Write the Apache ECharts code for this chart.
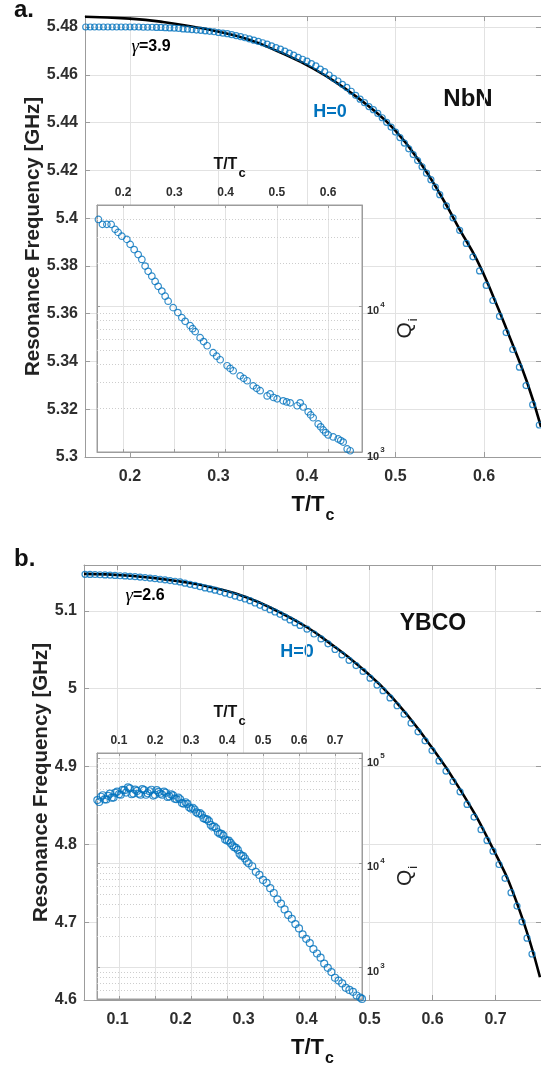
<!DOCTYPE html>
<html><head><meta charset="utf-8">
<script src="https://cdn.jsdelivr.net/npm/echarts@6/dist/echarts.min.js"></script>
<style>html,body{margin:0;padding:0;background:#fff}#c{width:541px;height:1068px}</style>
</head><body><div id="c"></div>
<script>
// ---------- Panel a (NbN) ----------
const aMainT = [0.150,0.155,0.160,0.165,0.170,0.175,0.180,0.185,0.190,0.195,0.200,0.205,0.210,0.215,0.220,0.225,0.230,0.235,0.240,0.245,0.250,0.255,0.260,0.265,0.270,0.275,0.280,0.285,0.290,0.295,0.300,0.305,0.310,0.315,0.320,0.325,0.330,0.335,0.340,0.345,0.350,0.355,0.360,0.365,0.370,0.375,0.380,0.385,0.390,0.395,0.400,0.405,0.410,0.415,0.420,0.425,0.430,0.435,0.440,0.445,0.450,0.455,0.460,0.465,0.470,0.475,0.480,0.485,0.490,0.495,0.500,0.505,0.510,0.515,0.520,0.525,0.530,0.535,0.540,0.545,0.550,0.5575,0.565,0.5725,0.580,0.5875,0.595,0.6025,0.610,0.6175,0.625,0.6325,0.640,0.6475,0.655,0.6625];
const aMainF = [5.4800,5.4800,5.4800,5.4800,5.4800,5.4800,5.4800,5.4800,5.4800,5.4800,5.4800,5.4800,5.4800,5.4799,5.4799,5.4799,5.4798,5.4798,5.4797,5.4796,5.4795,5.4794,5.4792,5.4791,5.4789,5.4787,5.4786,5.4784,5.4782,5.4780,5.4777,5.4774,5.4772,5.4768,5.4764,5.4760,5.4755,5.4750,5.4745,5.4740,5.4734,5.4728,5.4721,5.4714,5.4707,5.4699,5.4691,5.4682,5.4673,5.4665,5.4657,5.4647,5.4637,5.4624,5.4613,5.4599,5.4585,5.4574,5.4560,5.4547,5.4531,5.4514,5.4498,5.4483,5.4467,5.4454,5.4438,5.4420,5.4401,5.4381,5.4360,5.4337,5.4314,5.4290,5.4266,5.4241,5.4215,5.4188,5.4161,5.4130,5.4098,5.4051,5.4001,5.3949,5.3894,5.3838,5.3779,5.3718,5.3655,5.3589,5.3521,5.3450,5.3376,5.3299,5.3219,5.3134];
const aFitT = [0.1492,0.2000,0.2373,0.2757,0.2938,0.3322,0.3695,0.4068,0.4407,0.4712,0.4994,0.5277,0.5537,0.5729,0.5921,0.6102,0.6294,0.6486,0.6644];
const aFitF = [5.4843,5.4835,5.4821,5.4798,5.4785,5.4750,5.4694,5.4627,5.4548,5.4464,5.4368,5.4234,5.4079,5.3950,5.3824,5.3674,5.3498,5.3314,5.3126];
const aInsT = [0.1518,0.1596,0.1682,0.1766,0.1844,0.1902,0.1975,0.2072,0.2137,0.2215,0.2293,0.2365,0.2429,0.2488,0.2560,0.2624,0.2683,0.2755,0.2820,0.2878,0.2976,0.3067,0.3145,0.3210,0.3307,0.3355,0.3405,0.3502,0.3570,0.3639,0.3756,0.3825,0.3893,0.4029,0.4088,0.4146,0.4283,0.4352,0.4420,0.4537,0.4605,0.4673,0.4810,0.4868,0.4935,0.5005,0.5122,0.5190,0.5259,0.5395,0.5454,0.5512,0.5610,0.5658,0.5707,0.5805,0.5853,0.5902,0.5950,0.6000,0.6098,0.6195,0.6245,0.6293,0.6371,0.6429];
const aInsQ = [39800,36800,36800,36800,34000,32400,30500,29000,26800,24700,22800,21100,19000,17500,16200,14900,13800,12800,11800,10900,9840,9100,8400,7920,7400,7050,6730,6110,5750,5380,4820,4560,4310,3920,3760,3620,3340,3210,3090,2850,2740,2640,2430,2510,2370,2320,2250,2210,2180,2080,2180,2040,1890,1800,1720,1560,1490,1420,1360,1310,1270,1230,1200,1170,1050,1020];

// ---------- Panel b (YBCO) ----------
const bMainT = [0.0484,0.0563,0.0643,0.0722,0.0802,0.0881,0.0960,0.1040,0.1119,0.1198,0.1278,0.1357,0.1437,0.1516,0.1595,0.1675,0.1754,0.1833,0.1913,0.1992,0.2071,0.2151,0.2230,0.2310,0.2389,0.2468,0.2548,0.2627,0.2706,0.2786,0.2865,0.2944,0.3024,0.3103,0.3183,0.3262,0.3341,0.3421,0.3500,0.3579,0.3659,0.3738,0.3817,0.3897,0.4008,0.4119,0.4230,0.4341,0.4452,0.4563,0.4675,0.4786,0.4897,0.5008,0.5119,0.5214,0.5325,0.5437,0.5548,0.5659,0.5770,0.5881,0.5992,0.6103,0.6214,0.6325,0.6437,0.6548,0.6659,0.6770,0.6865,0.6960,0.7056,0.7151,0.7246,0.7341,0.7421,0.7500,0.7579];
const bMainF = [5.1470,5.1469,5.1468,5.1465,5.1462,5.1460,5.1456,5.1452,5.1449,5.1445,5.1440,5.1435,5.1428,5.1422,5.1414,5.1407,5.1399,5.1390,5.1381,5.1372,5.1357,5.1342,5.1327,5.1311,5.1295,5.1282,5.1267,5.1248,5.1229,5.1210,5.1191,5.1172,5.1153,5.1131,5.1102,5.1072,5.1044,5.1015,5.0986,5.0956,5.0920,5.0884,5.0849,5.0813,5.0765,5.0703,5.0640,5.0577,5.0504,5.0435,5.0365,5.0297,5.0222,5.0136,5.0047,4.9975,4.9882,4.9781,4.9672,4.9558,4.9446,4.9330,4.9205,4.9072,4.8942,4.8808,4.8675,4.8513,4.8351,4.8189,4.8051,4.7912,4.7741,4.7563,4.7379,4.7207,4.7004,4.6794,4.6591];
const bFitT = [0.0468,0.1198,0.1992,0.2516,0.3056,0.3579,0.4008,0.4325,0.4849,0.5373,0.5913,0.6437,0.6960,0.7341,0.7706];
const bFitF = [5.1476,5.1451,5.1379,5.1299,5.1172,5.0981,5.0790,5.0612,5.0282,4.9877,4.9329,4.8707,4.7944,4.7245,4.6292];
const bInsT = [0.040,0.050,0.060,0.070,0.080,0.090,0.100,0.110,0.120,0.130,0.140,0.150,0.160,0.170,0.180,0.190,0.200,0.210,0.220,0.230,0.240,0.250,0.260,0.270,0.280,0.290,0.300,0.310,0.320,0.330,0.340,0.350,0.360,0.370,0.380,0.390,0.400,0.410,0.420,0.430,0.440,0.450,0.460,0.470,0.480,0.490,0.500,0.510,0.520,0.530,0.540,0.550,0.560,0.570,0.580,0.590,0.600,0.610,0.620,0.630,0.640,0.650,0.660,0.670,0.680,0.690,0.700,0.710,0.720,0.730,0.740,0.750,0.760,0.770,0.775,
  0.045,0.055,0.065,0.075,0.085,0.095,0.105,0.115,0.125,0.135,0.145,0.155,0.165,0.175,0.185,0.195,0.205,0.215,0.225,0.235,0.245,0.255,0.265,0.275,0.285,0.295,0.305,0.315,0.325,0.335,0.345,0.355,0.365,0.375,0.385,0.395,0.405,0.415,0.425,0.435,0.445,0.455];
const bInsQ = [39800,42800,40300,43700,41900,46700,45200,49800,46900,51500,45900,48600,44700,49500,46200,49900,44700,47600,44700,46700,43100,44000,40600,40500,36700,36500,33000,32300,29600,28800,26200,25000,22100,21400,19000,18200,16300,15500,14100,13300,11700,11000,9910,9270,8200,7670,6870,6440,5730,5150,4480,4070,3590,3180,2920,2600,2360,2070,1880,1710,1500,1360,1240,1090,993,904,798,750,705,640,611,585,540,516,501,
  38100,44200,40300,45800,42000,47900,44800,49400,52500,45200,50000,45800,50700,44700,48300,43900,49400,45800,47900,42600,45000,41000,42000,37200,37900,33900,33600,30400,29900,26700,26000,23000,22200,19600,18900,16700,16300,14700,13900,12200,11600,10300];

const minorQa = [2000,3000,4000,5000,6000,7000,8000,9000,20000,30000,40000];
const minorQb = [600,700,800,900,2000,3000,4000,5000,6000,7000,8000,9000,20000,30000,40000,50000,60000,70000,80000,90000];

const zip = (xs, ys) => xs.map((x, i) => [x, ys[i]]);

const BLUE = '#0072BD', AX = '#9c9c9c', GRIDC = '#e2e2e2', LBL = '#2e2e2e', FONT = '"Liberation Sans", Arial, sans-serif';

const ttcRichBig = { m:{fontSize:22,fontWeight:'bold',lineHeight:24,verticalAlign:'top',color:'#111',fontFamily:FONT},
                     s:{fontSize:16,fontWeight:'bold',lineHeight:16,verticalAlign:'top',padding:[14,0,0,1],color:'#111',fontFamily:FONT} };
const ttcRichSmall = { m:{fontSize:16,fontWeight:'bold',lineHeight:18,verticalAlign:'top',color:'#111',fontFamily:FONT},
                       s:{fontSize:13,fontWeight:'bold',lineHeight:13,verticalAlign:'top',padding:[10,0,0,1],color:'#111',fontFamily:FONT} };
const qRich = { q:{fontSize:21,lineHeight:22,verticalAlign:'top',color:'#222',fontFamily:FONT},
                s:{fontSize:13,lineHeight:13,verticalAlign:'top',padding:[12,0,0,1],color:'#222',fontFamily:FONT} };
const logFmt = v => { const l = Math.log10(v), e = Math.round(l); return Math.abs(l - e) < 1e-6 ? '{b|10}{p|' + e + '}' : ''; };
const logRich = { b:{fontSize:11,fontWeight:'bold',lineHeight:12,verticalAlign:'top',padding:[5,0,0,0],color:LBL,fontFamily:FONT},
                  p:{fontSize:8,fontWeight:'bold',lineHeight:9,verticalAlign:'top',padding:[0,0,0,1],color:LBL,fontFamily:FONT} };

function valX(grid, min, max, split, pos, opts) {
  return Object.assign({ gridIndex: grid, type: 'value', position: pos, min, max, splitNumber: split, nameMoveOverlap: false,
    axisLine: { show: true, onZero: false, lineStyle: { color: AX, width: 1 } },
    axisTick: { show: true, inside: true, length: 5, lineStyle: { color: AX } },
    axisLabel: { show: false }, splitLine: { show: false } }, opts || {});
}
function mainLabel(extra) {
  return Object.assign({ show: true, fontSize: 16, fontWeight: 'bold', color: LBL, fontFamily: FONT, showMinLabel: false, showMaxLabel: false }, extra);
}
const yTitle = { fontSize: 20.5, fontWeight: 'bold', color: '#222', fontFamily: FONT };

const option = {
  animation: false,
  backgroundColor: '#fff',
  grid: [
    { left: 85, top: 16, width: 456, height: 441 },
    { left: 97, top: 205, width: 265, height: 247, show: true, backgroundColor: '#fff', borderColor: AX, borderWidth: 1, z: 3 },
    { left: 84, top: 565, width: 457, height: 440 },
    { left: 97, top: 753, width: 265, height: 246, show: true, backgroundColor: '#fff', borderColor: AX, borderWidth: 1, z: 3 }
  ],
  xAxis: [
    valX(0, 0.1492, 0.6644, 5, 'bottom', { axisLabel: mainLabel({ margin: 12 }), splitLine: { show: true, lineStyle: { color: GRIDC } },
      name: '{m|T/T}{s|c}', nameLocation: 'middle', nameGap: 37, nameTextStyle: { rich: ttcRichBig } }),
    valX(0, 0.1492, 0.6644, 5, 'top'),
    valX(1, 0.149, 0.666, 5, 'top', { z: 4, axisTick: { show: true, inside: true, length: 3, lineStyle: { color: AX } },
      axisLabel: mainLabel({ fontSize: 12, margin: 6 }), splitLine: { show: true, lineStyle: { color: GRIDC } },
      name: '{m|T/T}{s|c}', nameLocation: 'middle', nameGap: 30, nameTextStyle: { rich: ttcRichSmall } }),
    valX(1, 0.149, 0.666, 5, 'bottom', { z: 4, axisTick: { show: true, inside: true, length: 3, lineStyle: { color: AX } } }),
    valX(2, 0.0468, 0.7722, 7, 'bottom', { axisLabel: mainLabel({ margin: 12 }), splitLine: { show: true, lineStyle: { color: GRIDC } },
      name: '{m|T/T}{s|c}', nameLocation: 'middle', nameGap: 37, nameTextStyle: { rich: ttcRichBig } }),
    valX(2, 0.0468, 0.7722, 7, 'top'),
    valX(3, 0.039, 0.775, 7, 'top', { z: 4, axisTick: { show: true, inside: true, length: 3, lineStyle: { color: AX } },
      axisLabel: mainLabel({ fontSize: 12, margin: 6 }), splitLine: { show: true, lineStyle: { color: GRIDC } },
      name: '{m|T/T}{s|c}', nameLocation: 'middle', nameGap: 30, nameTextStyle: { rich: ttcRichSmall } }),
    valX(3, 0.039, 0.775, 7, 'bottom', { z: 4, axisTick: { show: true, inside: true, length: 3, lineStyle: { color: AX } } })
  ],
  yAxis: [
    { gridIndex: 0, type: 'value', position: 'left', min: 5.3, max: 5.4846, interval: 0.02, nameMoveOverlap: false,
      axisLine: { show: true, onZero: false, lineStyle: { color: AX } }, axisTick: { show: true, inside: true, length: 5, lineStyle: { color: AX } },
      axisLabel: mainLabel({ margin: 7, showMinLabel: true }), splitLine: { show: true, lineStyle: { color: GRIDC } },
      name: 'Resonance Frequency [GHz]', nameLocation: 'middle', nameGap: 41, nameTextStyle: yTitle },
    { gridIndex: 0, type: 'value', position: 'right', min: 5.3, max: 5.4846, interval: 0.02,
      axisLine: { show: false }, axisTick: { show: true, inside: true, length: 5, lineStyle: { color: AX } }, axisLabel: { show: false }, splitLine: { show: false } },
    { gridIndex: 1, type: 'log', logBase: 10, position: 'right', min: 1000, max: 50000, z: 4, nameMoveOverlap: false,
      axisLine: { show: true, onZero: false, lineStyle: { color: AX } }, axisTick: { show: true, inside: true, length: 3, lineStyle: { color: AX } },
      axisLabel: { show: true, margin: 5, formatter: logFmt, rich: logRich }, splitLine: { show: true, lineStyle: { color: GRIDC } },
      name: '{q|Q}{s|i}', nameLocation: 'middle', nameGap: 33, nameTextStyle: { rich: qRich } },
    { gridIndex: 1, type: 'log', logBase: 10, position: 'left', min: 1000, max: 50000, z: 4,
      axisLine: { show: true, onZero: false, lineStyle: { color: AX } }, axisTick: { show: true, inside: true, length: 3, lineStyle: { color: AX } }, axisLabel: { show: false }, splitLine: { show: false } },
    { gridIndex: 2, type: 'value', position: 'left', min: 4.6, max: 5.159, interval: 0.1, nameMoveOverlap: false,
      axisLine: { show: true, onZero: false, lineStyle: { color: AX } }, axisTick: { show: true, inside: true, length: 5, lineStyle: { color: AX } },
      axisLabel: mainLabel({ margin: 7, showMinLabel: true }), splitLine: { show: true, lineStyle: { color: GRIDC } },
      name: 'Resonance Frequency [GHz]', nameLocation: 'middle', nameGap: 32, nameTextStyle: yTitle },
    { gridIndex: 2, type: 'value', position: 'right', min: 4.6, max: 5.159, interval: 0.1,
      axisLine: { show: false }, axisTick: { show: true, inside: true, length: 5, lineStyle: { color: AX } }, axisLabel: { show: false }, splitLine: { show: false } },
    { gridIndex: 3, type: 'log', logBase: 10, position: 'right', min: 500, max: 112000, z: 4, nameMoveOverlap: false,
      axisLine: { show: true, onZero: false, lineStyle: { color: AX } }, axisTick: { show: true, inside: true, length: 3, lineStyle: { color: AX } },
      axisLabel: { show: true, margin: 5, formatter: logFmt, rich: logRich }, splitLine: { show: true, lineStyle: { color: GRIDC } },
      name: '{q|Q}{s|i}', nameLocation: 'middle', nameGap: 33, nameTextStyle: { rich: qRich } },
    { gridIndex: 3, type: 'log', logBase: 10, position: 'left', min: 500, max: 112000, z: 4,
      axisLine: { show: true, onZero: false, lineStyle: { color: AX } }, axisTick: { show: true, inside: true, length: 3, lineStyle: { color: AX } }, axisLabel: { show: false }, splitLine: { show: false } }
  ],
  series: [
    { type: 'scatter', xAxisIndex: 0, yAxisIndex: 0, data: zip(aMainT, aMainF), symbol: 'circle', symbolSize: 6, z: 2,
      itemStyle: { color: 'rgba(0,0,0,0)', borderColor: BLUE, borderWidth: 1.2 } },
    { type: 'line', xAxisIndex: 0, yAxisIndex: 0, data: zip(aFitT, aFitF), smooth: 0.5, showSymbol: false, symbol: 'none', z: 2,
      lineStyle: { color: '#000', width: 2.6 } },
    { type: 'scatter', xAxisIndex: 2, yAxisIndex: 2, data: zip(aInsT, aInsQ), symbol: 'circle', symbolSize: 6.5, z: 6,
      itemStyle: { color: 'rgba(0,0,0,0)', borderColor: BLUE, borderWidth: 1.2 },
      markLine: { silent: true, symbol: ['none', 'none'], label: { show: false }, animation: false,
        lineStyle: { color: '#cdcdcd', type: [1, 2], width: 1 }, data: minorQa.map(v => ({ yAxis: v })) } },
    { type: 'scatter', xAxisIndex: 4, yAxisIndex: 4, data: zip(bMainT, bMainF), symbol: 'circle', symbolSize: 6, z: 2,
      itemStyle: { color: 'rgba(0,0,0,0)', borderColor: BLUE, borderWidth: 1.2 } },
    { type: 'line', xAxisIndex: 4, yAxisIndex: 4, data: zip(bFitT, bFitF), smooth: 0.5, showSymbol: false, symbol: 'none', z: 2,
      lineStyle: { color: '#000', width: 2.6 } },
    { type: 'scatter', xAxisIndex: 6, yAxisIndex: 6, data: zip(bInsT, bInsQ), symbol: 'circle', symbolSize: 7, z: 6,
      itemStyle: { color: 'rgba(0,0,0,0)', borderColor: BLUE, borderWidth: 1.2 },
      markLine: { silent: true, symbol: ['none', 'none'], label: { show: false }, animation: false,
        lineStyle: { color: '#cdcdcd', type: [1, 2], width: 1 }, data: minorQb.map(v => ({ yAxis: v })) } }
  ],
  graphic: [
    { type: 'text', x: 14, y: 10, style: { text: 'a.', font: 'bold 24px ' + FONT, fill: '#111', align: 'left', verticalAlign: 'middle' } },
    { type: 'text', x: 14, y: 559, style: { text: 'b.', font: 'bold 24px ' + FONT, fill: '#111', align: 'left', verticalAlign: 'middle' } },
    { type: 'text', x: 151, y: 47, style: { text: '{g|γ}{n|=3.9}', align: 'center', verticalAlign: 'middle',
        rich: { g: { fontSize: 19, fontStyle: 'italic', fontFamily: '"Liberation Serif", serif', color: '#111' },
                n: { fontSize: 16, fontWeight: 'bold', fontFamily: FONT, color: '#111' } } } },
    { type: 'text', x: 145, y: 596, style: { text: '{g|γ}{n|=2.6}', align: 'center', verticalAlign: 'middle',
        rich: { g: { fontSize: 19, fontStyle: 'italic', fontFamily: '"Liberation Serif", serif', color: '#111' },
                n: { fontSize: 16, fontWeight: 'bold', fontFamily: FONT, color: '#111' } } } },
    { type: 'text', x: 330, y: 112, style: { text: 'H=0', font: 'bold 18px ' + FONT, fill: BLUE, align: 'center', verticalAlign: 'middle' } },
    { type: 'text', x: 297, y: 652, style: { text: 'H=0', font: 'bold 18px ' + FONT, fill: BLUE, align: 'center', verticalAlign: 'middle' } },
    { type: 'text', x: 468, y: 99, style: { text: 'NbN', font: 'bold 24px ' + FONT, fill: '#111', align: 'center', verticalAlign: 'middle' } },
    { type: 'text', x: 433, y: 624, style: { text: 'YBCO', font: 'bold 23px ' + FONT, fill: '#111', align: 'center', verticalAlign: 'middle' } }
  ]
};

const chart = echarts.init(document.getElementById('c'), null, { renderer: 'canvas' });
chart.setOption(option);
</script></body></html>
